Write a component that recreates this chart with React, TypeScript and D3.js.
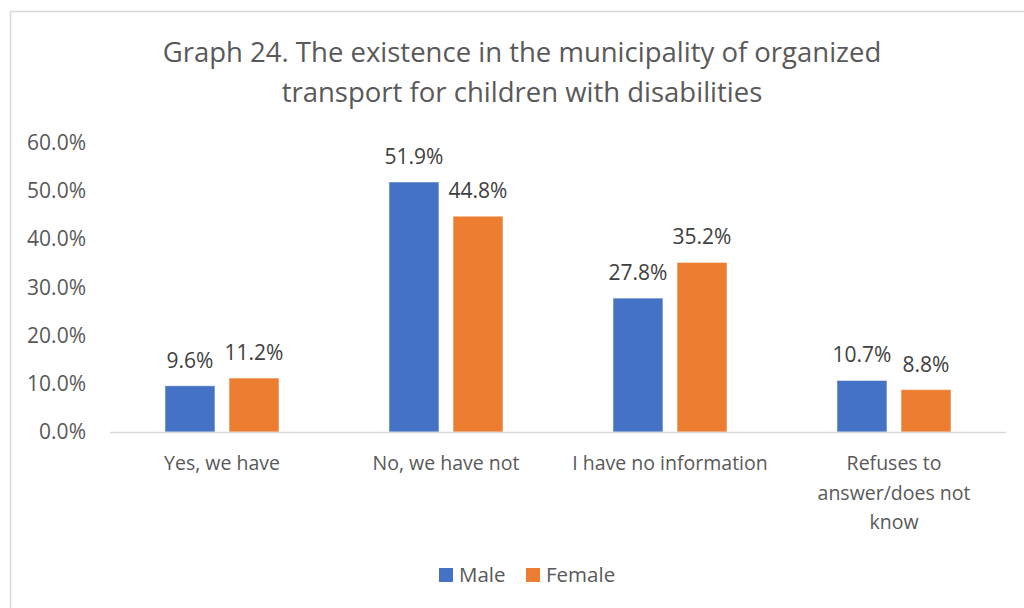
import React, { useRef, useEffect } from 'react'
import * as d3 from 'd3'

const categories = ['Yes, we have', 'No, we have not', 'I have no information', 'Refuses to answer/does not know']
const categoryLines = [['Yes, we have'], ['No, we have not'], ['I have no information'], ['Refuses to', 'answer/does not', 'know']]
const seriesNames = ['Male', 'Female']
const maleValues = [9.6, 51.9, 27.8, 10.7]
const femaleValues = [11.2, 44.8, 35.2, 8.8]
const yTicks = [0, 10, 20, 30, 40, 50, 60]
const titleLines = ['Graph 24. The existence in the municipality of organized', 'transport for children with disabilities']

const colors = ['#4472C4', '#ED7D31']
const textColor = '#595959'
const font = '"Open Sans", sans-serif'

export default function App() {
  const ref = useRef(null)

  useEffect(() => {
    document.body.style.margin = '0'
    const width = 1024, height = 608
    const svg = d3.select(ref.current)
    svg.selectAll('*').remove()
    svg.attr('width', width).attr('height', height)

    svg.append('rect').attr('x', 0).attr('y', 0).attr('width', width).attr('height', height).attr('fill', '#fff')
    // chart frame, only top and left are visible in the crop
    svg.append('rect')
      .attr('x', 10.5).attr('y', 11.5)
      .attr('width', 1100).attr('height', 700)
      .attr('fill', 'none').attr('stroke', '#D9D9D9').attr('stroke-width', 1.5)

    // title
    svg.selectAll('text.title')
      .data(titleLines)
      .join('text')
      .attr('class', 'title')
      .attr('x', 522)
      .attr('y', (d, i) => 62 + i * 40)
      .attr('text-anchor', 'middle')
      .attr('font-family', font)
      .attr('font-size', 27.5)
      .attr('fill', textColor)
      .text(d => d)

    const left = 110, right = 1006, top = 143, bottom = 432

    const y = d3.scaleLinear().domain([0, 60]).range([bottom, top])
    const x0 = d3.scaleBand().domain(categories).range([left, right]).padding(0)
    const groupWidth = 114
    const x1 = d3.scaleBand().domain(seriesNames).range([0, groupWidth]).paddingInner(0.22)

    // y tick labels
    svg.selectAll('text.ytick')
      .data(yTicks)
      .join('text')
      .attr('class', 'ytick')
      .attr('x', 86)
      .attr('y', d => y(d) + 7)
      .attr('text-anchor', 'end')
      .attr('font-family', font)
      .attr('font-size', 21)
      .attr('fill', textColor)
      .text(d => d.toFixed(1) + '%')

    const rows = categories.map((c, i) => ({ cat: c, vals: [maleValues[i], femaleValues[i]] }))

    const groups = svg.selectAll('g.cat')
      .data(rows)
      .join('g')
      .attr('class', 'cat')
      .attr('transform', d => `translate(${x0(d.cat) + (x0.bandwidth() - groupWidth) / 2},0)`)

    groups.selectAll('rect')
      .data(d => d.vals.map((v, j) => ({ s: seriesNames[j], v, j })))
      .join('rect')
      .attr('x', d => x1(d.s))
      .attr('y', d => y(d.v))
      .attr('width', x1.bandwidth())
      .attr('height', d => bottom - y(d.v))
      .attr('fill', d => colors[d.j])
      .attr('stroke', '#fff')
      .attr('stroke-opacity', 0.5)
      .attr('stroke-width', 1)

    groups.selectAll('text.val')
      .data(d => d.vals.map((v, j) => ({ s: seriesNames[j], v, j })))
      .join('text')
      .attr('class', 'val')
      .attr('x', d => x1(d.s) + x1.bandwidth() / 2)
      .attr('y', d => y(d.v) - 18)
      .attr('text-anchor', 'middle')
      .attr('font-family', font)
      .attr('font-size', 21)
      .attr('fill', '#404040')
      .text(d => d.v.toFixed(1) + '%')

    // x axis line
    svg.append('line')
      .attr('x1', left).attr('x2', right)
      .attr('y1', bottom + 0.5).attr('y2', bottom + 0.5)
      .attr('stroke', '#D9D9D9').attr('stroke-width', 1.5)

    // category labels
    const catLabels = svg.selectAll('text.xcat')
      .data(categories)
      .join('text')
      .attr('class', 'xcat')
      .attr('text-anchor', 'middle')
      .attr('font-family', font)
      .attr('font-size', 19.5)
      .attr('fill', textColor)
    catLabels.selectAll('tspan')
      .data((d, i) => categoryLines[i].map(l => ({ l, c: d })))
      .join('tspan')
      .attr('x', d => x0(d.c) + x0.bandwidth() / 2)
      .attr('y', (d, k) => 470 + k * 29.5)
      .text(d => d.l)

    // legend
    const legendItems = [{ name: 'Male', x: 439 }, { name: 'Female', x: 526 }]
    const legend = svg.selectAll('g.legend')
      .data(legendItems)
      .join('g')
      .attr('class', 'legend')
      .attr('transform', d => `translate(${d.x},568)`)
    legend.append('rect')
      .attr('width', 14).attr('height', 14)
      .attr('fill', (d, i) => colors[i])
    legend.append('text')
      .attr('x', 20).attr('y', 14)
      .attr('font-family', font)
      .attr('font-size', 20.5)
      .attr('fill', textColor)
      .text(d => d.name)
  }, [])

  return <svg ref={ref} style={{ display: 'block' }} />
}
